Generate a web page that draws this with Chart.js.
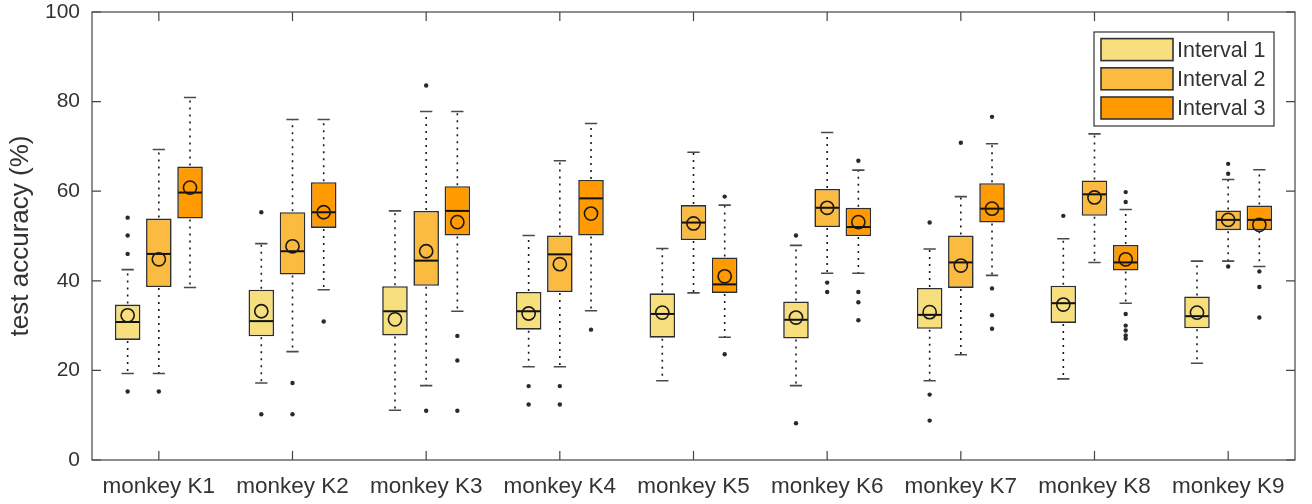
<!DOCTYPE html>
<html>
<head>
<meta charset="utf-8">
<title>test accuracy per monkey</title>
<script src="https://cdn.jsdelivr.net/npm/chart.js@4.4.0/dist/chart.umd.min.js"></script>
<style>
  html, body { margin: 0; padding: 0; background: #fff; }
  canvas { display: block; }
</style>
</head>
<body>
<canvas id="chart" width="1312" height="504"></canvas>
<script>
// categories and series
const monkeys = ['monkey K1', 'monkey K2', 'monkey K3', 'monkey K4', 'monkey K5',
                 'monkey K6', 'monkey K7', 'monkey K8', 'monkey K9'];
const intervalNames = ['Interval 1', 'Interval 2', 'Interval 3'];
const intervalColors = ['#f7df7e', '#fbbb40', '#ff9a00'];
const yTicks = [0, 20, 40, 60, 80, 100];

// one row per interval, one value per monkey
const lowerQuartile = [
    [26.8, 27.6, 27.8, 29.1, 27.3, 27.1, 29.3, 30.6, 29.4],
    [38.6, 41.4, 38.9, 37.5, 49.1, 52.0, 38.4, 54.5, 51.3],
    [53.9, 51.8, 50.1, 50.1, 37.3, 50.0, 53.0, 42.3, 51.3]
];
const upperQuartile = [
    [34.7, 38.0, 38.8, 37.5, 37.2, 35.4, 38.4, 38.9, 36.5],
    [53.9, 55.3, 55.6, 50.1, 56.9, 60.5, 50.1, 62.4, 55.7],
    [65.5, 62.0, 61.1, 62.5, 45.2, 56.3, 61.8, 48.0, 56.8]
];
const medians = [
    [30.8, 31.0, 33.2, 33.2, 32.6, 31.3, 32.4, 35.0, 32.1],
    [46.0, 46.6, 44.5, 45.9, 53.0, 56.3, 44.1, 59.3, 53.6],
    [59.7, 55.3, 55.6, 58.4, 39.2, 52.0, 56.1, 44.1, 53.6]
];
const means = [
    [32.3, 33.2, 31.4, 32.7, 32.9, 31.8, 33.0, 34.7, 32.9],
    [44.8, 47.7, 46.6, 43.7, 52.8, 56.3, 43.4, 58.6, 53.6],
    [60.8, 55.3, 53.1, 55.0, 41.0, 53.1, 56.1, 44.8, 52.5]
];
const whiskerLow = [
    [19.3, 17.2, 11.1, 20.8, 17.7, 16.6, 17.7, 18.1, 21.6],
    [19.3, 24.2, 16.6, 20.8, 37.3, 41.7, 23.5, 44.1, 44.4],
    [38.5, 38.0, 33.2, 33.3, 27.4, 41.7, 41.2, 35.0, 43.2]
];
const whiskerHigh = [
    [42.5, 48.3, 55.6, 50.1, 47.2, 47.9, 47.1, 49.4, 44.4],
    [69.3, 76.0, 77.8, 66.8, 68.7, 73.1, 58.8, 72.8, 62.6],
    [80.9, 76.0, 77.8, 75.1, 56.9, 64.7, 70.6, 55.9, 64.8]
];
const outliers = [
    [[54.1, 50.1, 46.0, 15.3], [55.3, 10.2], [], [16.5, 12.4], [], [50.1, 8.2], [53.0, 14.6, 8.8], [54.5], []],
    [[15.3], [17.2, 10.2], [83.6, 11.0], [16.5, 12.4], [], [39.6, 37.5], [70.8], [], [66.1, 63.9, 43.2]],
    [[], [30.9], [27.7, 22.2, 11.0], [29.1], [58.8, 23.6], [66.8, 37.5, 35.2, 31.2],
     [76.6, 38.3, 32.3, 29.3], [59.8, 57.6, 32.6, 30.0, 28.9, 27.8, 27.1], [42.1, 38.6, 31.8]]
];

const fontFamily = '"Liberation Sans", Arial, Helvetica, sans-serif';
const textColor = '#333333';

// whiskers, caps, medians, means and outliers on top of the floating bars
const boxPlotPlugin = {
    id: 'boxPlot',
    afterDatasetsDraw(chart) {
        const ctx = chart.ctx;
        const yScale = chart.scales.y;
        chart.data.datasets.forEach((ds, d) => {
            const meta = chart.getDatasetMeta(d);
            meta.data.forEach((bar, i) => {
                const x = bar.x;
                const half = bar.width / 2;
                const top = yScale.getPixelForValue(upperQuartile[d][i]);
                const bottom = yScale.getPixelForValue(lowerQuartile[d][i]);
                const hi = yScale.getPixelForValue(whiskerHigh[d][i]);
                const lo = yScale.getPixelForValue(whiskerLow[d][i]);

                ctx.save();
                // dotted whiskers
                ctx.strokeStyle = '#1a1a1a';
                ctx.lineWidth = 1.6;
                ctx.setLineDash([2, 5]);
                ctx.beginPath();
                ctx.moveTo(x, top - 1);
                ctx.lineTo(x, hi);
                ctx.moveTo(x, bottom + 1);
                ctx.lineTo(x, lo);
                ctx.stroke();
                ctx.setLineDash([]);

                // caps
                const capHalf = half * 0.48;
                ctx.strokeStyle = '#4a4a4a';
                ctx.lineWidth = 1.6;
                ctx.beginPath();
                ctx.moveTo(x - capHalf, hi);
                ctx.lineTo(x + capHalf, hi);
                ctx.moveTo(x - capHalf, lo);
                ctx.lineTo(x + capHalf, lo);
                ctx.stroke();

                // median
                const med = yScale.getPixelForValue(medians[d][i]);
                ctx.strokeStyle = '#111111';
                ctx.lineWidth = 2;
                ctx.beginPath();
                ctx.moveTo(x - half + 1, med);
                ctx.lineTo(x + half - 1, med);
                ctx.stroke();

                // mean
                const mean = yScale.getPixelForValue(means[d][i]);
                ctx.lineWidth = 1.6;
                ctx.strokeStyle = '#1a1a1a';
                ctx.beginPath();
                ctx.arc(x, mean, 6.6, 0, Math.PI * 2);
                ctx.stroke();

                // outliers
                ctx.fillStyle = '#2a2a2a';
                outliers[d][i].forEach(v => {
                    ctx.beginPath();
                    ctx.arc(x, yScale.getPixelForValue(v), 2.2, 0, Math.PI * 2);
                    ctx.fill();
                });
                ctx.restore();
            });
        });
    }
};

// box frame with inward ticks, matlab style
const framePlugin = {
    id: 'frame',
    afterDraw(chart) {
        const {ctx, chartArea: a, scales} = chart;
        const len = 9;
        ctx.save();
        ctx.strokeStyle = '#444444';
        ctx.lineWidth = 1.2;
        ctx.strokeRect(a.left, a.top, a.right - a.left, a.bottom - a.top);
        ctx.beginPath();
        scales.y.ticks.forEach((t, i) => {
            const py = scales.y.getPixelForTick(i);
            ctx.moveTo(a.left, py);
            ctx.lineTo(a.left + len, py);
            ctx.moveTo(a.right, py);
            ctx.lineTo(a.right - len, py);
        });
        scales.x.ticks.forEach((t, i) => {
            const px = scales.x.getPixelForTick(i);
            ctx.moveTo(px, a.bottom);
            ctx.lineTo(px, a.bottom - len);
            ctx.moveTo(px, a.top);
            ctx.lineTo(px, a.top + len);
        });
        ctx.stroke();
        ctx.restore();
    }
};

// legend box in the upper right corner of the plot
const insideLegendPlugin = {
    id: 'insideLegend',
    afterDraw(chart) {
        const {ctx, chartArea} = chart;
        const w = 180, h = 94;
        const left = chartArea.right - 21 - w;
        const top = chartArea.top + 20;
        ctx.save();
        ctx.fillStyle = '#ffffff';
        ctx.fillRect(left, top, w, h);
        ctx.strokeStyle = '#333333';
        ctx.lineWidth = 1.2;
        ctx.strokeRect(left, top, w, h);
        chart.data.datasets.forEach((ds, d) => {
            const cy = top + 17.6 + d * 29.2;
            ctx.fillStyle = ds.backgroundColor;
            ctx.fillRect(left + 7, cy - 11, 72, 22);
            ctx.strokeStyle = '#333333';
            ctx.lineWidth = 1.6;
            ctx.strokeRect(left + 7, cy - 11, 72, 22);
            ctx.fillStyle = textColor;
            ctx.font = '21.5px ' + fontFamily;
            ctx.textBaseline = 'middle';
            ctx.fillText(ds.label, left + 83, cy + 1);
        });
        ctx.restore();
    }
};

const datasets = intervalNames.map((name, d) => ({
    label: name,
    data: monkeys.map((m, i) => [lowerQuartile[d][i], upperQuartile[d][i]]),
    backgroundColor: intervalColors[d],
    borderColor: '#2e2e2e',
    borderWidth: 1.6,
    borderSkipped: false,
    categoryPercentage: 0.7,
    barPercentage: 0.82
}));

const ctx = document.getElementById('chart').getContext('2d');
new Chart(ctx, {
    type: 'bar',
    data: { labels: monkeys, datasets: datasets },
    options: {
        responsive: false,
        animation: false,
        devicePixelRatio: 1,
        layout: { padding: { top: 12, right: 17, left: 0, bottom: 0 } },
        plugins: {
            legend: { display: false },
            tooltip: { enabled: false }
        },
        scales: {
            x: {
                type: 'category',
                offset: true,
                grid: { display: false, drawTicks: false },
                border: { display: false },
                ticks: {
                    color: textColor,
                    font: { family: fontFamily, size: 22.5 },
                    padding: 13,
                    autoSkip: false,
                    maxRotation: 0
                },
                afterFit(scale) {
                    scale.height = 44;
                    scale.paddingLeft = 0;
                    scale.paddingRight = 0;
                }
            },
            y: {
                min: 0,
                max: 100,
                grid: { display: false, drawTicks: false },
                border: { display: false },
                afterBuildTicks(scale) { scale.ticks = yTicks.map(v => ({ value: v })); },
                ticks: {
                    color: textColor,
                    font: { family: fontFamily, size: 21 },
                    padding: 12
                },
                title: {
                    display: true,
                    text: 'test accuracy (%)',
                    color: textColor,
                    font: { family: fontFamily, size: 26 },
                    padding: { top: 5, bottom: 0 }
                },
                afterFit(scale) {
                    scale.width = 92;
                    // the plot frame is placed by layout padding alone
                    scale.paddingTop = 0;
                    scale.paddingBottom = 0;
                }
            }
        }
    },
    plugins: [boxPlotPlugin, framePlugin, insideLegendPlugin]
});
</script>
</body>
</html>
